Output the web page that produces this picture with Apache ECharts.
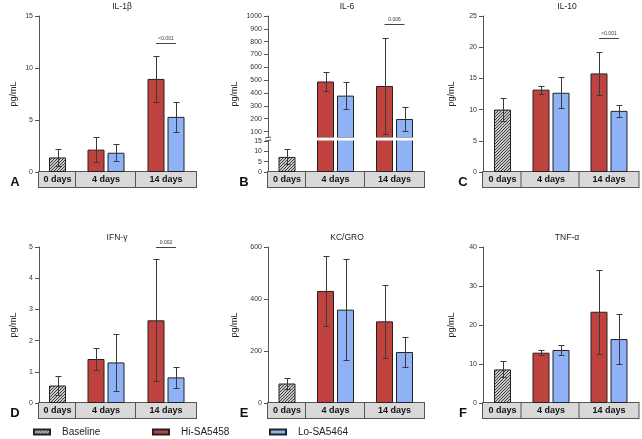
<!DOCTYPE html>
<html>
<head>
<meta charset="utf-8">
<title>Cytokines</title>
<script src="https://cdn.jsdelivr.net/npm/echarts@6.0.0/dist/echarts.min.js"></script>
<style>
    html, body { margin: 0; padding: 0; background: #ffffff; }
    #main { width: 642px; height: 439px; }
</style>
</head>
<body>
<div id="main"></div>
<script>
/**************************
 * cytokine panels A-F
 * baseline / Hi-SA5458 / Lo-SA5464, mean +- SD
 * ***********************/

// ---- data ----
var days = ["0 days", "4 days", "14 days"];
var cytokines = ["IL-1β", "IL-6", "IL-10", "IFN-γ", "KC/GRO", "TNF-α"];
var panel_letters = ["A", "B", "C", "D", "E", "F"];
var series_names = ["Baseline", "Hi-SA5458", "Lo-SA5464"];

var baseline_mean = [1.4, 7.3, 10.0, 0.56, 75, 8.6];
var baseline_sd = [0.85, 3.6, 1.9, 0.3, 22, 2.05];

// [4 days, 14 days]
var hi_mean = [[2.15, 8.95], [490, 455], [13.2, 15.8], [1.41, 2.65], [431, 314], [12.9, 23.4]];
var hi_sd = [[1.2, 2.2], [77, 372], [0.65, 3.5], [0.35, 1.95], [136, 140], [0.7, 10.8]];
var lo_mean = [[1.85, 5.3], [380, 198], [12.7, 9.8], [1.3, 0.82], [359, 196], [13.6, 16.4]];
var lo_sd = [[0.83, 1.47], [103, 90], [2.5, 1.0], [0.92, 0.33], [195, 57], [1.2, 6.4]];

// 14 days Hi vs Lo
var p_labels = ["<0.001", "0.006", "<0.001", "0.002", null, null];
var p_levels = [12.4, 936, 21.5, 5.0, null, null];

// y axis ticks
var y_max = [15, 1000, 25, 5, 600, 40];
var y_step = [5, 100, 5, 1, 200, 10];
var il6_low_ticks = [0, 5, 10, 15];
var il6_high_ticks = [100, 200, 300, 400, 500, 600, 700, 800, 900, 1000];

// ---- layout / style ----
var FONT = "'Liberation Sans', Arial, Helvetica, sans-serif";
var AXIS_X = [39, 268, 483];
var FIRST_W = [37, 38, 39];
var REST_W = [120, 118, 118];
var ROW_TOP = [16, 247];
var PLOT_H = 156;
var NAME_GAP = [21, 29, 27];
var TITLE_X = [[122, 347, 567], [117, 347, 567]];
var LETTER_X = [15, 244, 463];
var BAR_W = 17, BAR_GAP = 3;
var RED = "#c0423e", BLUE = "#8fb2f6", EDGE = "#222222", ERR = "#3a3a3a";

var charts_view = (function () {
    var option, hatch, makeHatch, addGrid, addX, addY, addBar, addErr, addSig, buildPanel, init;

    // 斜线填充
    makeHatch = function () {
        var c = document.createElement("canvas");
        c.width = 3;
        c.height = 3;
        var ctx = c.getContext("2d");
        ctx.fillStyle = "#c8c8c8";
        ctx.fillRect(0, 0, 3, 3);
        ctx.strokeStyle = "#404040";
        ctx.lineWidth = 1;
        ctx.beginPath();
        ctx.moveTo(0, 3); ctx.lineTo(3, 0);
        ctx.moveTo(-1, 1); ctx.lineTo(1, -1);
        ctx.moveTo(2, 4); ctx.lineTo(4, 2);
        ctx.stroke();
        return { image: c, repeat: "repeat" };
    };

    addGrid = function (left, top, width, height) {
        option.grid.push({ left: left, top: top, width: width, height: height });
        return option.grid.length - 1;
    };

    addX = function (g, cats, cellW, showLabel) {
        option.xAxis.push({
            gridIndex: g,
            type: "category",
            data: cats,
            axisLine: { show: false },
            axisTick: { show: false },
            splitLine: { show: false },
            axisLabel: showLabel ? {
                interval: 0,
                margin: 0,
                fontSize: 9,
                fontWeight: "bold",
                color: "#111",
                backgroundColor: "#d9d9d9",
                borderColor: "#555",
                borderWidth: 1,
                width: cellW,
                height: 15,
                lineHeight: 15,
                align: "center",
                verticalAlign: "top",
                padding: 0
            } : { show: false }
        });
        return option.xAxis.length - 1;
    };

    addY = function (g, cfg) {
        var ax = {
            gridIndex: g,
            type: "value",
            min: cfg.min,
            max: cfg.max,
            show: cfg.show !== false,
            axisLine: { show: true, lineStyle: { color: "#555", width: 1 } },
            axisTick: { show: true, length: 4, lineStyle: { color: "#555" } },
            axisLabel: {
                fontSize: 7,
                color: "#333",
                margin: 6,
                formatter: function (v) { return String(v); }
            },
            splitLine: { show: false }
        };
        if (cfg.interval) {
            ax.interval = cfg.interval;
        }
        if (cfg.ticks) {
            ax.axisTick.customValues = cfg.ticks;
            ax.axisLabel.customValues = cfg.ticks;
        }
        if (cfg.name) {
            ax.name = cfg.name;
            ax.nameLocation = "middle";
            ax.nameGap = cfg.nameGap;
            ax.nameTextStyle = { fontSize: 9, color: "#222" };
        }
        if (cfg.nameOnly) {
            ax.axisLine.show = false;
            ax.axisTick.show = false;
            ax.axisLabel.show = false;
        }
        option.yAxis.push(ax);
        return option.yAxis.length - 1;
    };

    addBar = function (name, xi, yi, data, color) {
        option.series.push({
            type: "bar",
            name: name,
            xAxisIndex: xi,
            yAxisIndex: yi,
            data: data,
            barWidth: BAR_W,
            barGap: (BAR_GAP / BAR_W * 100) + "%",
            silent: true,
            itemStyle: { color: color, borderColor: EDGE, borderWidth: 1 }
        });
    };

    // 误差线 (mean +- sd)
    addErr = function (xi, yi, data, offset) {
        option.series.push({
            type: "custom",
            xAxisIndex: xi,
            yAxisIndex: yi,
            data: data,
            encode: { x: 0, y: 1 },
            silent: true,
            z: 3,
            renderItem: function (params, api) {
                var cat = api.value(0), m = api.value(1), s = api.value(2);
                var top = api.coord([cat, m + s]);
                var bot = api.coord([cat, m - s]);
                var x = Math.round(top[0] + offset) + 0.5;
                var y1 = Math.round(top[1]) + 0.5, y2 = Math.round(bot[1]) + 0.5;
                var st = { stroke: ERR, lineWidth: 1 };
                return {
                    type: "group",
                    children: [
                        { type: "line", shape: { x1: x, y1: y1, x2: x, y2: y2 }, style: st },
                        { type: "line", shape: { x1: x - 3, y1: y1, x2: x + 3, y2: y1 }, style: st },
                        { type: "line", shape: { x1: x - 3, y1: y2, x2: x + 3, y2: y2 }, style: st }
                    ]
                };
            }
        });
    };

    // 显著性标注
    addSig = function (xi, yi, level, text) {
        option.series.push({
            type: "custom",
            xAxisIndex: xi,
            yAxisIndex: yi,
            data: [[1, level]],
            encode: { x: 0, y: 1 },
            silent: true,
            z: 3,
            renderItem: function (params, api) {
                var p = api.coord([api.value(0), api.value(1)]);
                var d = (BAR_W + BAR_GAP) / 2;
                var y = Math.round(p[1]) + 0.5;
                return {
                    type: "group",
                    children: [
                        { type: "line", shape: { x1: p[0] - d, y1: y, x2: p[0] + d, y2: y },
                          style: { stroke: "#444", lineWidth: 1 } },
                        { type: "text", x: p[0], y: y - 2,
                          style: { text: text, fontSize: 5, fill: "#333", align: "center",
                                   verticalAlign: "bottom", fontFamily: FONT } }
                    ]
                };
            }
        });
    };

    buildPanel = function (i) {
        var row = Math.floor(i / 3), col = i % 3;
        var ax = AXIS_X[col], top = ROW_TOP[row];
        var w0 = FIRST_W[col], w1 = REST_W[col];
        var off = (BAR_W + BAR_GAP) / 2;
        var hiData = [[0, hi_mean[i][0], hi_sd[i][0]], [1, hi_mean[i][1], hi_sd[i][1]]];
        var loData = [[0, lo_mean[i][0], lo_sd[i][0]], [1, lo_mean[i][1], lo_sd[i][1]]];
        var gL, gR, xL, xR, yL, yR;

        option.title.push({
            text: cytokines[i], left: TITLE_X[row][col], top: top - 14, padding: 0,
            textAlign: "center",
            textStyle: { fontSize: 8.5, fontWeight: "normal", color: "#222", fontFamily: FONT }
        });
        option.title.push({
            text: panel_letters[i], left: LETTER_X[col], top: top + PLOT_H + 4, padding: 0,
            textAlign: "center",
            textStyle: { fontSize: 13, fontWeight: "bold", color: "#111", fontFamily: FONT }
        });

        if (i !== 1) {
            gL = addGrid(ax, top, w0, PLOT_H);
            gR = addGrid(ax + w0, top, w1, PLOT_H);
            xL = addX(gL, days.slice(0, 1), w0, true);
            xR = addX(gR, days.slice(1), w1 / 2, true);
            yL = addY(gL, { min: 0, max: y_max[i], interval: y_step[i], name: "pg/mL", nameGap: NAME_GAP[col] });
            yR = addY(gR, { min: 0, max: y_max[i], interval: y_step[i], show: false });

            addBar(series_names[0], xL, yL, [baseline_mean[i]], hatch);
            addErr(xL, yL, [[0, baseline_mean[i], baseline_sd[i]]], 0);
            addBar(series_names[1], xR, yR, hi_mean[i], RED);
            addBar(series_names[2], xR, yR, lo_mean[i], BLUE);
            addErr(xR, yR, hiData, -off);
            addErr(xR, yR, loData, off);
            if (p_labels[i]) {
                addSig(xR, yR, p_levels[i], p_labels[i]);
            }
            return;
        }

        // IL-6: 断轴, 上段 50-1000, 下段 0-15 (顶部多出一点被白带盖住)
        var hiH = 122, loTop = top + 122, loH = PLOT_H - 122;
        var gLU = addGrid(ax, top, w0, hiH);
        var gRU = addGrid(ax + w0, top, w1, hiH);
        var gLD = addGrid(ax, loTop, w0, loH);
        var gRD = addGrid(ax + w0, loTop, w1, loH);
        var gN = addGrid(ax, top, w0, PLOT_H);

        var xRU = addX(gRU, days.slice(1), w1 / 2, false);
        var xLD = addX(gLD, days.slice(0, 1), w0, true);
        var xRD = addX(gRD, days.slice(1), w1 / 2, true);
        addX(gLU, days.slice(0, 1), w0, false);
        addX(gN, days.slice(0, 1), w0, false);

        addY(gLU, { min: 50, max: y_max[i], ticks: il6_high_ticks });
        var yRU = addY(gRU, { min: 50, max: y_max[i], show: false });
        var yLD = addY(gLD, { min: 0, max: 15 * loH / (loH - 3), ticks: il6_low_ticks });
        var yRD = addY(gRD, { min: 0, max: 15 * loH / (loH - 3), show: false });
        addY(gN, { min: 0, max: 1, name: "pg/mL", nameGap: NAME_GAP[col], nameOnly: true });

        addBar(series_names[0], xLD, yLD, [baseline_mean[i]], hatch);
        addErr(xLD, yLD, [[0, baseline_mean[i], baseline_sd[i]]], 0);
        addBar(series_names[1], xRU, yRU, hi_mean[i], RED);
        addBar(series_names[2], xRU, yRU, lo_mean[i], BLUE);
        addBar(series_names[1], xRD, yRD, hi_mean[i], RED);
        addBar(series_names[2], xRD, yRD, lo_mean[i], BLUE);
        addErr(xRU, yRU, hiData, -off);
        addErr(xRU, yRU, loData, off);
        addSig(xRU, yRU, p_levels[i], p_labels[i]);

        // 白带 + 断轴符号
        var yb = top + 122;
        option.graphic.push(
            { type: "rect", z: 100, shape: { x: ax + 1, y: yb - 0.5, width: w0 + w1 + 2, height: 3 },
              style: { fill: "#ffffff" } },
            { type: "rect", z: 100, shape: { x: ax - 1, y: yb - 0.5, width: 3, height: 3 },
              style: { fill: "#ffffff" } },
            { type: "line", z: 101, shape: { x1: ax - 3, y1: yb, x2: ax + 3, y2: yb - 1 },
              style: { stroke: "#555", lineWidth: 1 } },
            { type: "line", z: 101, shape: { x1: ax - 3, y1: yb + 3, x2: ax + 3, y2: yb + 2 },
              style: { stroke: "#555", lineWidth: 1 } }
        );
    };

    init = function () {
        var chart = echarts.init(document.getElementById("main"));
        hatch = makeHatch();
        option = {
            animation: false,
            backgroundColor: "#ffffff",
            textStyle: { fontFamily: FONT },
            title: [],
            grid: [],
            xAxis: [],
            yAxis: [],
            series: [],
            graphic: [],
            legend: []
        };
        for (var i = 0; i < cytokines.length; i++) {
            buildPanel(i);
        }
        // 图例
        var legend_x = [33, 152, 269];
        for (var k = 0; k < series_names.length; k++) {
            option.legend.push({
                data: [series_names[k]],
                left: legend_x[k],
                top: 427,
                padding: 0,
                icon: "rect",
                itemWidth: 16,
                itemHeight: 5,
                selectedMode: false,
                textStyle: { fontSize: 10, color: "#222", padding: [0, 0, 0, 7], fontFamily: FONT }
            });
        }
        chart.setOption(option);
        window.addEventListener("resize", function () {
            chart.resize();
        });
    };

    return { init: init };
})();

charts_view.init();
</script>
</body>
</html>
